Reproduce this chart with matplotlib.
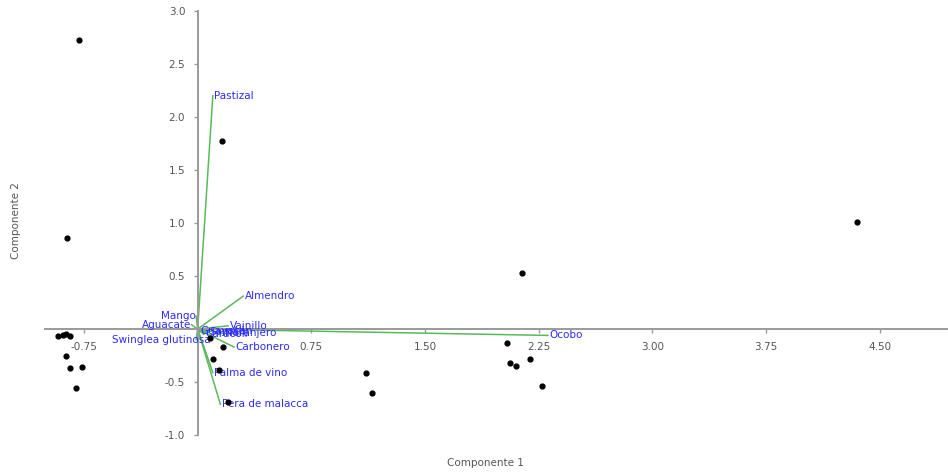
import numpy as np
import matplotlib
matplotlib.use("Agg")
import matplotlib.pyplot as plt

# puntajes (componente 1, componente 2)
score_x = [-0.78, 0.16, -0.86, 2.14, 4.35, -0.92, -0.89, -0.87, -0.84, -0.87,
           -0.84, -0.76, -0.80, 0.10, 0.14, 0.17, 0.20, 0.08, 1.11, 1.15,
           2.04, 2.06, 2.10, 2.19, 2.27]
score_y = [2.73, 1.77, 0.86, 0.53, 1.01, -0.07, -0.06, -0.05, -0.07, -0.25,
           -0.37, -0.36, -0.56, -0.28, -0.39, -0.17, -0.69, -0.08, -0.41, -0.60,
           -0.13, -0.32, -0.35, -0.28, -0.54]

# cargas de las especies
species = ["Pastizal", "Almendro", "Mango", "Aguacate", "Swinglea glutinosa",
           "Vainillo", "Guayacán", "Caracolí", "Samán", "Naranjero",
           "Carbonero", "Palma de vino", "Pera de malacca", "Ocobo"]
load_x = [0.10, 0.30, -0.01, -0.04, -0.01, 0.20, 0.01, 0.04, 0.07, 0.17,
          0.24, 0.10, 0.15, 2.31]
load_y = [2.20, 0.31, 0.12, 0.04, -0.10, 0.03, -0.02, -0.05, -0.03, -0.04,
          -0.17, -0.41, -0.71, -0.06]

xticks = [-0.75, 0.75, 1.50, 2.25, 3.00, 3.75, 4.50]
yticks = [-1.0, -0.5, 0.5, 1.0, 1.5, 2.0, 2.5, 3.0]

fig = plt.figure(figsize=(9.48, 4.75), dpi=100)
ax = fig.add_axes([0.0475, 0.084, 0.9525, 0.893])
ax.set_xlim(-1.007, 4.95)
ax.set_ylim(-1.0, 3.0)

axis_col = "#9a9a9a"
txt_col = "#555555"
for s in ["top", "right"]:
    ax.spines[s].set_visible(False)
for s in ["left", "bottom"]:
    ax.spines[s].set_position(("data", 0))
    ax.spines[s].set_color(axis_col)
    ax.spines[s].set_linewidth(1.4)

ax.set_xticks(xticks)
ax.set_xticklabels(["%.2f" % v for v in xticks])
ax.set_yticks(yticks)
ax.set_yticklabels(["%.1f" % v for v in yticks])
ax.tick_params(axis="both", colors=axis_col, labelcolor=txt_col, labelsize=7.5,
               length=3, width=1, direction="out", pad=6)

# vectores de carga
for x, y in zip(load_x, load_y):
    ax.plot([0, x], [0, y], color="#5cb85c", lw=1.1, zorder=2)

ax.scatter(score_x, score_y, s=12, color="black", zorder=4)

# etiquetas
shift = {"Swinglea glutinosa": 0.10}
for name, x, y in zip(species, load_x, load_y):
    ha = "left" if x > 0 else "right"
    ax.text(x + shift.get(name, 0) + (0.01 if x > 0 else -0.005), y, name,
            color="#2b2bff", fontsize=7.5, ha=ha, va="center", zorder=3)

fig.text(0.512, 0.018, "Componente 1", color=txt_col, fontsize=7.5, ha="center")
fig.text(0.012, 0.535, "Componente 2", color=txt_col, fontsize=7.5,
         rotation=90, va="center")

fig.savefig("out.png", dpi=100)
